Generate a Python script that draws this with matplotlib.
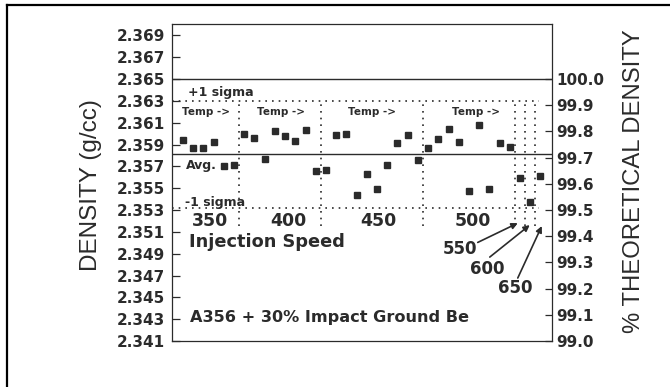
import numpy as np
import matplotlib
matplotlib.use("Agg")
import matplotlib.pyplot as plt
from matplotlib.lines import Line2D

# ---------------------------
# dados
# ---------------------------
speeds = ["350", "400", "450", "500", "550", "600", "650"]
runs_per_speed = [6, 8, 10, 9, 1, 1, 1]

density = [
    2.3594, 2.3587, 2.3587, 2.3592, 2.3570, 2.3571,                          # 350
    2.3600, 2.3596, 2.3577, 2.3602, 2.3598, 2.3593, 2.3603, 2.3566,          # 400
    2.3567, 2.3599, 2.3600, 2.3544, 2.3563, 2.3549, 2.3571, 2.3591,
    2.3599, 2.3576,                                                          # 450
    2.3587, 2.3595, 2.3604, 2.3592, 2.3547, 2.3608, 2.3549, 2.3591, 2.3588,  # 500
    2.3559,                                                                  # 550
    2.3537,                                                                  # 600
    2.3561,                                                                  # 650
]

avg_density = 2.3581
sigma = 0.0049
theoretical = 2.365

left_ticks = [2.341, 2.343, 2.345, 2.347, 2.349, 2.351, 2.353, 2.355,
              2.357, 2.359, 2.361, 2.363, 2.365, 2.367, 2.369]
right_ticks = [99.0, 99.1, 99.2, 99.3, 99.4, 99.5, 99.6, 99.7, 99.8, 99.9, 100.0]

INK = "#2b2b2b"
dots = (0, (1, 3))


def to_pct(d):
    # 100 % = 2.365, 99 % = 2.341
    return 100.0 + (d - theoretical) / 0.024


fig = plt.figure(figsize=(6.7, 3.87), dpi=100)
ax = fig.add_axes([0.2563, 0.1189, 0.5671, 0.8178])

run = np.arange(len(density))
ax.plot(run, density, linestyle="none", marker="s", ms=3.8, color=INK)

# linhas de referencia
ax.axhline(theoretical, color=INK, lw=1.0)
ax.axhline(avg_density, color=INK, lw=1.0)
ax.hlines([avg_density + sigma, avg_density - sigma], -1.1, 34.9,
          colors=INK, linestyles=dots, lw=1.2)

bounds = np.cumsum(runs_per_speed)[:-1] - 0.5
ax.vlines(bounds, 2.3515, avg_density + sigma, colors=INK, linestyles=dots, lw=1.2)

ax.set_xlim(-1.1, 36.1)
ax.set_ylim(2.341, 2.370)
ax.set_xticks([])
ax.set_yticks(left_ticks)
ax.set_yticklabels([f"{t:.3f}" for t in left_ticks])
ax.tick_params(axis="y", direction="in", length=5.5, width=0.9, pad=4.8,
               colors=INK, labelsize=11)
for lab in ax.get_yticklabels():
    lab.set_fontweight("bold")
for sp in ax.spines.values():
    sp.set_color(INK)
    sp.set_linewidth(0.9)

ax2 = ax.twinx()
ax2.set_ylim(to_pct(2.341), to_pct(2.370))
ax2.set_yticks(right_ticks)
ax2.set_yticklabels([f"{t:.1f}" for t in right_ticks])
ax2.tick_params(axis="y", direction="in", length=5, width=0.9, pad=3.6,
                colors=INK, labelsize=11)
for lab in ax2.get_yticklabels():
    lab.set_fontweight("bold")
for sp in ax2.spines.values():
    sp.set_visible(False)

# textos dentro do grafico
bold = dict(color=INK, fontweight="bold", va="center", ha="left")
ax.text(0.49, 2.36376, "+1 sigma", fontsize=9, **bold)
ax.text(0.29, 2.35711, "Avg.", fontsize=9, **bold)
ax.text(0.2, 2.35366, "-1 sigma", fontsize=9, **bold)
for xt in [-0.1, 7.24, 16.14, 26.32]:
    ax.text(xt, 2.36198, "Temp ->", fontsize=7.5, **bold)

for xt, s in zip([0.88, 8.51, 17.32, 26.61], speeds[:4]):
    ax.text(xt, 2.35201, s, fontsize=12.5, **bold)
ax.text(0.59, 2.35006, "Injection Speed", fontsize=12.8, **bold)
ax.text(0.68, 2.34311, "A356 + 30% Impact Ground Be", fontsize=11.6, **bold)

arrows = [
    (speeds[4], (25.44, 2.34942), (28.86, 2.35003), (32.78, 2.35180)),
    (speeds[5], (28.08, 2.34759), (30.04, 2.34869), (33.95, 2.35162)),
    (speeds[6], (30.82, 2.34585), (32.78, 2.34677), (35.13, 2.35153)),
]
for s, pos, tail, head in arrows:
    ax.text(pos[0], pos[1], s, fontsize=12, **bold)
    ax.annotate("", xy=head, xytext=tail,
                arrowprops=dict(arrowstyle="-|>", color=INK, lw=1.2,
                                mutation_scale=9, shrinkA=0, shrinkB=0))

# titulos dos eixos
fig.text(91 / 670, 1 - 185 / 387, "DENSITY (g/cc)", rotation=90,
         family="Liberation Sans", fontsize=17.5, color=INK,
         ha="center", va="center")
fig.text(634 / 670, 1 - 181 / 387, "% THEORETICAL DENSITY", rotation=90,
         family="Liberation Sans", fontsize=17.2, color=INK,
         ha="center", va="center")

# moldura da imagem (so topo e esquerda aparecem)
fig.add_artist(Line2D([7 / 670, 7 / 670], [0, 1 - 5 / 387],
                      transform=fig.transFigure, color="black", lw=1.6))
fig.add_artist(Line2D([7 / 670, 1], [1 - 5 / 387, 1 - 5 / 387],
                      transform=fig.transFigure, color="black", lw=1.6))

fig.savefig("out.png", dpi=100)
